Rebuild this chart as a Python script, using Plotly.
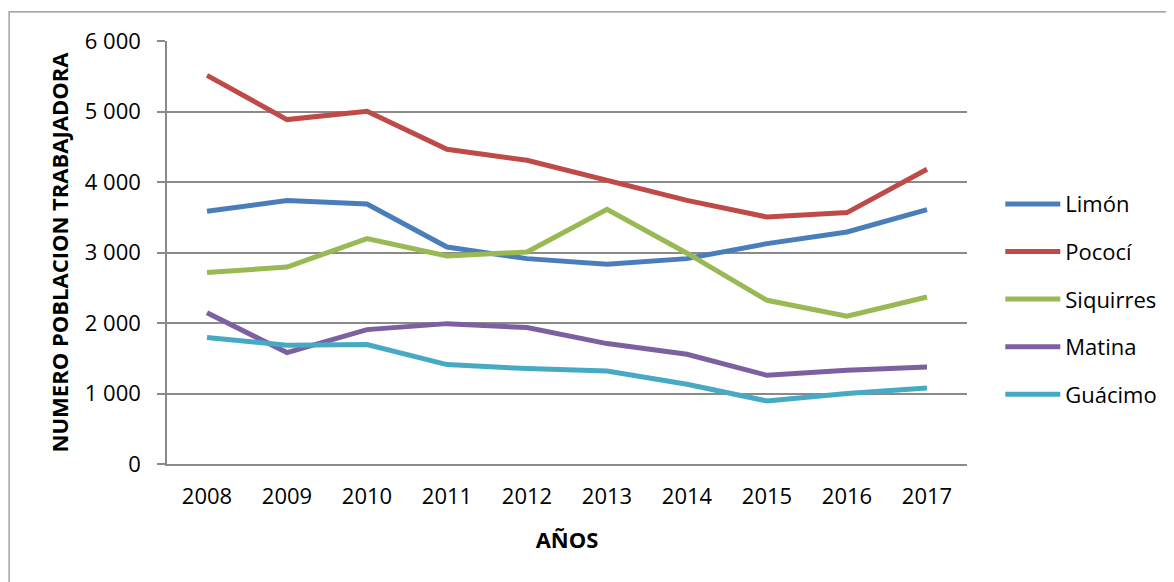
import plotly.graph_objects as go

years = ["2008", "2009", "2010", "2011", "2012", "2013", "2014", "2015", "2016", "2017"]
limon = [3584, 3736, 3688, 3078, 2913, 2833, 2913, 3126, 3291, 3608]
pococi = [5513, 4885, 5003, 4464, 4308, 4024, 3740, 3504, 3566, 4180]
siquirres = [2715, 2794, 3197, 2950, 3007, 3613, 2990, 2322, 2095, 2369]
matina = [2147, 1580, 1906, 1991, 1935, 1708, 1556, 1258, 1329, 1376]
guacimo = [1793, 1684, 1694, 1410, 1353, 1319, 1130, 894, 999, 1078]

series = [
    ("Limón", limon, "#4A7EBB"),
    ("Pococí", pococi, "#BE4B48"),
    ("Siquirres", siquirres, "#98B954"),
    ("Matina", matina, "#7D60A0"),
    ("Guácimo", guacimo, "#46AAC5"),
]

fig = go.Figure()
for name, vals, col in series:
    fig.add_trace(go.Scatter(
        x=years, y=vals, name=name, mode="lines",
        line=dict(color=col, width=5, shape="linear"),
        legendgroup=name,
    ))

# page body has an 8px margin, so figure coords = screen coords - 8
OFF = 8
W, H = 1174, 582
ml = 166.7 - OFF
mt = 40.7 - OFF
pw = 800.0
ph = 423.0
mr = W - ml - pw
mb = H - mt - ph

def px_x(sx):
    return (sx - OFF - ml) / pw

def px_y(sy):
    return (mt + ph - (sy - OFF)) / ph

font_family = "Open Sans"
grid = "#8A8A8A"

fig.update_layout(
    width=W, height=H,
    margin=dict(l=ml, r=mr, t=mt, b=mb, autoexpand=False),
    paper_bgcolor="white", plot_bgcolor="white",
    separators=", ",
    font=dict(family=font_family, size=22, color="#000000"),
    showlegend=True,
    legend=dict(
        x=px_x(1000), xanchor="left",
        y=px_y(298.8), yanchor="middle",
        font=dict(size=22, family=font_family),
        tracegroupgap=16, itemwidth=55,
        bgcolor="rgba(0,0,0,0)",
    ),
    xaxis=dict(
        type="category", range=[-0.5, 9.5],
        showline=True, linecolor=grid, linewidth=1.5,
        showgrid=False, ticks="", ticklabelstandoff=12,
        tickfont=dict(size=22, family=font_family),
        title=dict(text="<b>AÑOS</b>", font=dict(size=22, family=font_family), standoff=23),
    ),
    yaxis=dict(
        range=[0, 6000], dtick=1000, tickformat=",d",
        showline=True, linecolor=grid, linewidth=1.5,
        showgrid=True, gridcolor=grid, gridwidth=1.5,
        ticks="outside", ticklen=8, tickcolor=grid, tickwidth=1.5,
        ticklabelstandoff=12,
        tickfont=dict(size=22, family=font_family),
        title=dict(text="<b>NUMERO POBLACION TRABAJADORA</b>", font=dict(size=22, family=font_family), standoff=10),
    ),
    shapes=[dict(
        type="rect", xref="paper", yref="paper",
        x0=px_x(8.8), x1=1.5,
        y0=-0.5, y1=px_y(11.5),
        line=dict(color="#8C8C8C", width=1.2), fillcolor="rgba(0,0,0,0)",
        layer="below",
    )],
)

fig.write_html("out.html")
